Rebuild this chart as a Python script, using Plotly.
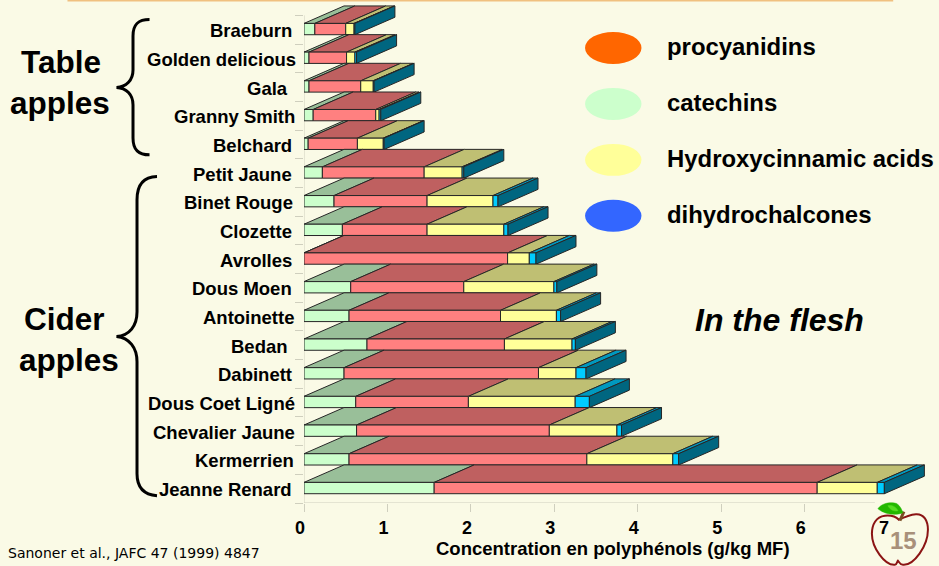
import plotly.graph_objects as go

# ---------- data (top row first) ----------
cultivars = ["Braeburn", "Golden delicious", "Gala", "Granny Smith", "Belchard",
             "Petit Jaune", "Binet Rouge", "Clozette", "Avrolles", "Dous Moen",
             "Antoinette", "Bedan", "Dabinett", "Dous Coet Ligné", "Chevalier Jaune",
             "Kermerrien", "Jeanne Renard"]
catechins = [0.13, 0.06, 0.06, 0.11, 0.05, 0.22, 0.36, 0.46, 0.00, 0.56,
             0.54, 0.755, 0.48, 0.62, 0.63, 0.54, 1.56]
procyanidins = [0.37, 0.45, 0.62, 0.75, 0.59, 1.22, 1.115, 1.015, 2.44, 1.355,
                1.815, 1.647, 2.33, 1.35, 2.31, 2.85, 4.59]
hydroxycinnamic = [0.10, 0.10, 0.15, 0.04, 0.31, 0.455, 0.79, 0.92, 0.26, 1.08,
                   0.67, 0.81, 0.45, 1.28, 0.81, 1.03, 0.72]
dihydrochalcones = [0.01, 0.02, 0.01, 0.02, 0.01, 0.02, 0.06, 0.05, 0.08, 0.035,
                    0.05, 0.04, 0.12, 0.17, 0.055, 0.07, 0.085]
x_ticks = [0, 1, 2, 3, 4, 5, 6, 7]

# ---------- page geometry and styles ----------
W, H = 939, 566
X0, Y0 = 304.4, 503.3
UX, UY = 83.4, 28.7            # pixels per axis unit
XMAX, YMAX = 7.55, 17.5        # axis ranges leave room for the oblique depth
X1, YT = X0 + XMAX * UX, Y0 - YMAX * UY
BG = "#FAFAE6"
AXIS = "#CFCFBE"
EDGE = "#262626"
SANS = "Liberation Sans"
DEPTH_X, DEPTH_Y = 40 / UX, 17.5 / UY       # oblique depth in axis units
BAR_LOW, BAR_HIGH = 0.324, 0.718            # front face within a row
LABEL_GAP = [10, 6, 14, 7, 10, 10, 9, 10, 10, 10, 8, 14, 10, 7, 7, 8, 10]

stack = [
    ("catechins", catechins, "#CCFFCC", "#99BF99"),
    ("procyanidins", procyanidins, "#FF8080", "#BF6060"),
    ("Hydroxycinnamic acids", hydroxycinnamic, "#FFFF99", "#BFBF73"),
    ("dihydrochalcones", dihydrochalcones, "#00CCFF", "#0099BF"),
]
SIDE = "#006680"


def px(x):
    return (x - X0) / (X1 - X0)


def py(y):
    return (Y0 - y) / (Y0 - YT)


n = len(cultivars)
rows = [n - 1 - i for i in range(n)]
fig = go.Figure()

# axis lines stop at the last tick, below the headroom kept for the depth
fig.add_trace(go.Scatter(x=[0, 7], y=[0, 0], mode="lines", line=dict(color=AXIS, width=1),
                         showlegend=False, hoverinfo="skip"))
fig.add_trace(go.Scatter(x=[0, 0], y=[0, n], mode="lines", line=dict(color=AXIS, width=1),
                         showlegend=False, hoverinfo="skip"))


def poly(xs, ys, fill, name):
    fig.add_trace(go.Scatter(x=xs, y=ys, mode="lines", fill="toself", fillcolor=fill,
                             line=dict(color=EDGE, width=1), name=name,
                             showlegend=False, hoverinfo="name"))


for idx in range(n):
    r = rows[idx]
    low, high = r + BAR_LOW, r + BAR_HIGH
    left = 0.0
    for name, vals, front, top in stack:
        right = left + vals[idx]
        poly([left, left + DEPTH_X, right + DEPTH_X, right, left],
             [high, high + DEPTH_Y, high + DEPTH_Y, high, high], top, name)
        poly([left, right, right, left, left], [low, low, high, high, low], front, name)
        left = right
    poly([left, left + DEPTH_X, left + DEPTH_X, left, left],
         [low, low + DEPTH_Y, high + DEPTH_Y, high, low], SIDE, "end")

ann = []


def text(x, y, s, size, anchor="left", color="#000000", bold=True, italic=False, family=SANS):
    t = f"<b>{s}</b>" if bold else s
    t = f"<i>{t}</i>" if italic else t
    ann.append(dict(x=px(x), y=py(y), xref="paper", yref="paper", text=t, showarrow=False,
                    xanchor=anchor, yanchor="middle", align=anchor,
                    font=dict(family=family, size=size, color=color)))


# cultivar labels on the y axis positions
for idx, label in enumerate(cultivars):
    ann.append(dict(x=0, y=rows[idx] + 0.5, xref="x", yref="y", text=f"<b>{label}</b>",
                    showarrow=False, xanchor="right", yanchor="middle",
                    xshift=-LABEL_GAP[idx], yshift=-1,
                    font=dict(family=SANS, size=18.5, color="#000000")))

text(61.5, 62.5, "Table", 31.5, "center")
text(61, 103, "apples", 31.5, "center")
text(65, 319.5, "Cider", 31.5, "center")
text(69.5, 360, "apples", 31.5, "center")
text(780, 320, "In the flesh", 32, "center", italic=True)
text(613, 549, "Concentration en polyphénols (g/kg MF)", 18.5, "center")
text(7, 553, "Sanoner et al., JAFC 47 (1999) 4847", 14, bold=False, family="DejaVu Sans")
text(903.5, 541, "15", 24, "center", color="#A8907A")

shapes = []


def ell(cy, color):
    shapes.append(dict(type="circle", xref="paper", yref="paper", x0=px(585.3), x1=px(641.7),
                       y0=py(cy - 16), y1=py(cy + 16), fillcolor=color, line=dict(width=0)))


legend_rows = [("procyanidins", "#FF6600", 48), ("catechins", "#CCFFCC", 104),
               ("Hydroxycinnamic acids", "#FFFF99", 160), ("dihydrochalcones", "#3366FF", 216)]
for lab, col, cy in legend_rows:
    ell(cy, col)
    text(665, cy - 1, lab, 23.9)


def path(cmds, line=None, fill=None, width=0):
    out = []
    for c in cmds:
        if isinstance(c, str):
            out.append(c)
        else:
            out.append(f"{px(c[0]):.5f} {py(c[1]):.5f}")
    d = dict(type="path", xref="paper", yref="paper", path=" ".join(out),
             line=dict(color=line or "rgba(0,0,0,0)", width=width))
    if fill:
        d["fillcolor"] = fill
    shapes.append(d)


# braces
path(["M", (150, 19.5), "C", (139, 19.5), (133.5, 24), (133.5, 36), "L", (133.5, 70),
      "C", (133.5, 80), (127, 87), (117, 87.5), "C", (127, 88), (133.5, 95), (133.5, 105),
      "L", (133.5, 138), "C", (133.5, 150), (139, 155), (150, 155)], line="#000000", width=3)
path(["M", (157.5, 176.7), "C", (145, 177), (137.5, 184), (137.5, 200), "L", (137.5, 312),
      "C", (137.5, 326), (130, 336), (117, 336.7), "C", (130, 338), (137.5, 348), (137.5, 362),
      "L", (137.5, 474), "C", (137.5, 488), (145, 495), (157.5, 496)], line="#000000", width=3)

# top rule
shapes.append(dict(type="rect", xref="paper", yref="paper", x0=px(68), x1=px(893.3),
                   y0=py(0), y1=py(1.5), fillcolor="#F0C080", line=dict(width=0)))

# apple logo (covers the end of the axis line)
shapes.append(dict(type="rect", xref="paper", yref="paper", x0=px(875), x1=px(931),
                   y0=py(498), y1=py(512), fillcolor=BG, line=dict(width=0)))
path(["M", (899, 520), "C", (895, 516), (890, 515.5), (885, 516), "C", (876, 517), (872, 525), (872, 534),
      "C", (872, 548), (885, 566), (895, 565), "C", (897, 565), (897, 562), (898, 561),
      "C", (899, 562), (900, 565), (903, 565), "C", (914, 566), (928, 546), (928, 530),
      "C", (928, 521), (924, 514), (916, 514.5), "C", (910, 515), (905, 517), (899, 520), "Z"],
     line="#8B1414", width=2)
path(["M", (900, 521), "L", (904, 512)], line="#7A4B22", width=3)
path(["M", (878, 509), "C", (882, 503), (892, 502), (897, 504), "C", (900, 506), (902, 510), (903, 513),
      "C", (896, 516), (885, 515), (878, 509), "Z"], fill="#22B800", line="#22B800", width=0.5)
path(["M", (888, 506), "C", (892, 505), (896, 507), (898, 511), "C", (894, 512), (890, 510), (888, 506), "Z"],
     fill="#55DD22", line="#55DD22", width=0.5)

fig.update_layout(
    width=W, height=H, autosize=False, showlegend=False,
    paper_bgcolor=BG, plot_bgcolor=BG,
    margin=dict(l=X0, r=W - X1, t=YT, b=H - Y0, pad=0),
    annotations=ann, shapes=shapes,
    xaxis=dict(range=[0, XMAX], tickvals=x_ticks, ticktext=[str(v) for v in x_ticks], showgrid=False,
               zeroline=False, showline=False, ticks="outside",
               ticklen=8, tickcolor=AXIS, tickwidth=1, ticklabelshift=-4, ticklabelstandoff=0,
               tickfont=dict(family=SANS, size=18, color="#000000", weight="bold"), fixedrange=True),
    yaxis=dict(range=[0, YMAX], tickvals=list(range(n + 1)), showticklabels=False, showgrid=False,
               zeroline=False, showline=False, ticks="outside",
               ticklen=8, tickcolor=AXIS, tickwidth=1, fixedrange=True),
)

fig.write_html("out.html", config=dict(displayModeBar=False),
               post_script="document.body.style.margin='0';document.documentElement.style.overflow='hidden';")
